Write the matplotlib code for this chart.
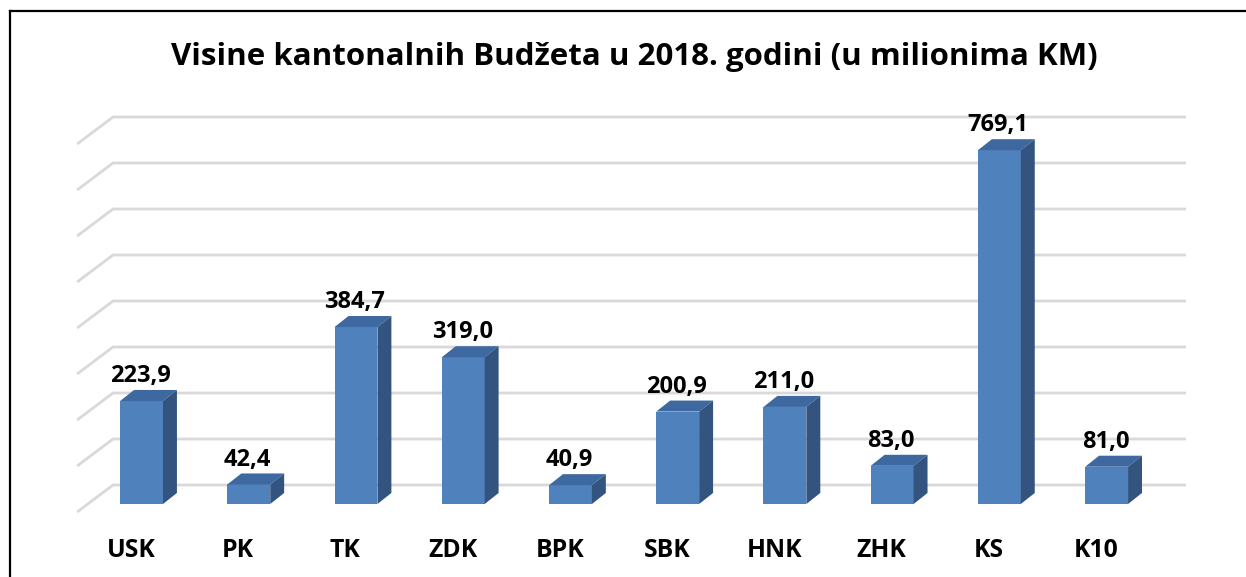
# cantonal budgets 2018 - Excel-like 3D column chart

import numpy as np
import matplotlib
matplotlib.use('Agg')
import matplotlib.pyplot as plt
from matplotlib.patches import Polygon
from matplotlib.lines import Line2D

plt.rcParams['font.family'] = ['Open Sans', 'DejaVu Sans']

# data
cantons = ['USK', 'PK', 'TK', 'ZDK', 'BPK', 'SBK', 'HNK', 'ZHK', 'KS', 'K10']
budgets = [223.9, 42.4, 384.7, 319.0, 40.9, 200.9, 211.0, 83.0, 769.1, 81.0]
grid_values = [0, 100, 200, 300, 400, 500, 600, 700, 800]
title = 'Visine kantonalnih Budžeta u 2018. godini (u milionima KM)'

# colors
front_col = '#4F81BD'
top_col = '#3E69A0'
side_col = '#33547E'
grid_col = '#D9D9D9'

# 3D look (data units)
bar_w = 0.4
bar_dx, bar_dy = 0.13, 24          # bar depth offset
floor_front = -17.4                # front edge of floor relative to bar front
back_shift = 41.3                  # back wall relative to bar front
wall_x0, wall_x1 = -0.266, 9.74
wall_dx = 0.335

fig = plt.figure(figsize=(12.46, 5.77), dpi=100)
ax = fig.add_axes([0, 0, 1, 1])
ax.set_xlim(-1.32, 10.30)
ax.set_ylim(-158.7, 1095.7)
ax.axis('off')

# gridlines on back wall + side diagonals
for v in grid_values:
	ax.plot([wall_x0 - wall_dx, wall_x0, wall_x1],
	        [v + floor_front, v + back_shift, v + back_shift],
	        color=grid_col, lw=2, zorder=1, solid_capstyle='butt')

x = np.arange(len(cantons))
ax.bar(x, budgets, width=bar_w, color=front_col, zorder=3)

for xi, v in zip(x, budgets):
	l, r = xi - bar_w / 2, xi + bar_w / 2
	top = Polygon([(l, v), (l + bar_dx, v + bar_dy), (r + bar_dx, v + bar_dy), (r, v)],
	              closed=True, facecolor=top_col, edgecolor='none', zorder=3)
	side = Polygon([(r, 0), (r, v), (r + bar_dx, v + bar_dy), (r + bar_dx, bar_dy)],
	               closed=True, facecolor=side_col, edgecolor='none', zorder=3)
	ax.add_patch(top)
	ax.add_patch(side)
	# value label
	ax.text(xi - 0.01, v + bar_dy + 17, f'{v:.1f}'.replace('.', ','), ha='center', va='baseline',
	        fontsize=17, fontweight='bold', color='black', zorder=4)

# category labels (sit slightly left of the bar fronts)
for xi, name in zip(x, cantons):
	ax.text(xi - 0.1, -115, name, ha='center', va='baseline', fontsize=17.8, fontweight='bold')

# title, scaled to the reference width
t = fig.text(634.5 / 1246, 1 - 65 / 577, title, ha='center', va='baseline',
             fontsize=22, fontweight='bold')
fig.canvas.draw()
w = t.get_window_extent().width
t.set_fontsize(22 * 925 / w)

# chart border (left and top)
bx, by = 9.5 / 1246, 1 - 11 / 577
fig.add_artist(Line2D([bx, bx], [0, by], color='black', lw=1.6, transform=fig.transFigure))
fig.add_artist(Line2D([bx, 1], [by, by], color='black', lw=1.6, transform=fig.transFigure))

plt.savefig('out.png', dpi=100)
plt.close()
